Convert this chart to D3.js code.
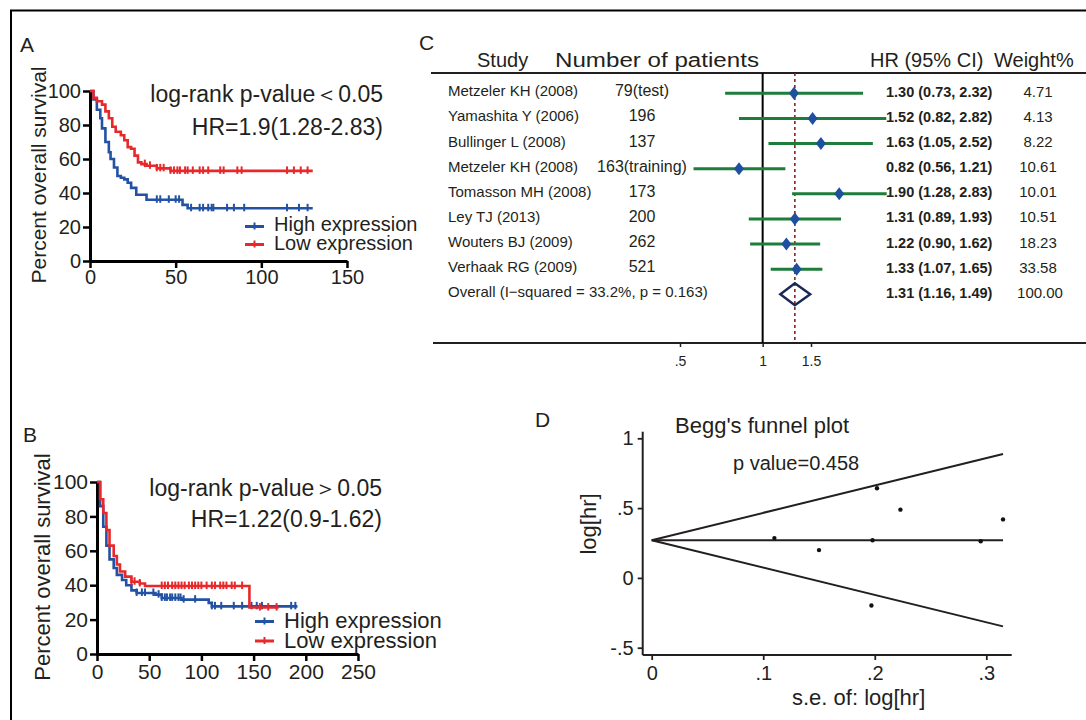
<!DOCTYPE html>
<html>
<head>
<meta charset="utf-8">
<script src="https://cdn.jsdelivr.net/npm/d3@7"></script>
<style>
body { margin: 0; background: #fff; }
svg text { font-family: "Liberation Sans", Arial, sans-serif; fill: #231f20; }
</style>
</head>
<body>
<script>
// ---- panel A: survival steps (months, %) ----
const aHighT = [0, 2, 4, 6, 7, 9, 11, 12, 14, 16, 18, 20, 22, 24, 27, 33, 54, 57, 130];
const aHighS = [100, 95, 89, 84, 78, 70, 64, 60, 55, 50, 49, 48, 46, 43, 39, 36, 33, 31, 31];
const aLowT = [0, 2, 4, 7, 9, 11, 13, 15, 18, 20, 22, 24, 26, 28, 30, 33, 39, 47, 130];
const aLowS = [100, 96, 94, 92, 88, 84, 79, 76, 74, 71, 67, 66, 62, 58, 57, 56, 54.5, 53, 53];
const aHighCens = [39, 41, 46, 50, 52, 59, 64, 66, 69, 71, 72, 80, 84, 90, 115, 122, 127];
const aLowCens = [32, 35, 39, 41, 43, 47, 49, 51, 52.5, 55.5, 57, 60, 64, 66, 69, 76, 78, 86, 88.5, 115, 119, 123, 127];

// ---- panel B ----
const bHighT = [0, 3, 6, 9, 12, 16, 19, 24, 28, 33, 38, 56, 62, 81, 107, 110, 192];
const bHighS = [100, 86, 74, 63, 55, 50, 46, 43, 40, 37, 35.5, 34.5, 32.6, 31.6, 29.7, 27.7, 27.7];
const bLowT = [0, 3, 6, 9, 12, 16, 19, 22, 27, 33, 41, 46, 146, 174];
const bLowS = [100, 90, 82, 72, 63, 57, 52, 48, 45, 42, 41, 39.5, 27, 27];
const bHighCens = [38, 43, 46, 54, 59, 62, 65, 67, 70, 72, 75, 78, 80, 83, 94, 110, 113, 119, 131, 139, 148, 153, 158, 186, 190];
const bLowCens = [33, 36, 41, 62, 65, 68, 72, 75, 78, 81, 84, 88, 91, 94, 97, 100, 105, 110, 113, 118, 121, 124, 129, 132, 139, 156, 164, 172];

const survTicks = [0, 20, 40, 60, 80, 100];
const aTimeTicks = [0, 50, 100, 150];
const bTimeTicks = [0, 50, 100, 150, 200, 250];

// ---- panel C: forest plot ----
const studies = ["Metzeler KH (2008)", "Yamashita Y (2006)", "Bullinger L (2008)", "Metzeler KH (2008)",
  "Tomasson MH (2008)", "Ley TJ (2013)", "Wouters BJ (2009)", "Verhaak RG (2009)"];
const patients = ["79(test)", "196", "137", "163(training)", "173", "200", "262", "521"];
const hr = [1.30, 1.52, 1.63, 0.82, 1.90, 1.31, 1.22, 1.33];
const hrLo = [0.73, 0.82, 1.05, 0.56, 1.28, 0.89, 0.90, 1.07];
const hrHi = [2.32, 2.82, 2.52, 1.21, 2.83, 1.93, 1.62, 1.65];
const weights = ["4.71", "4.13", "8.22", "10.61", "10.01", "10.51", "18.23", "33.58"];
const overall = { hr: 1.31, lo: 1.16, hi: 1.49, weight: "100.00" };
const overallLabel = "Overall  (I\u2212squared = 33.2%, p = 0.163)";
const forestTicks = [0.5, 1, 1.5];

// ---- panel D: Begg's funnel ----
const seVals = [0.295, 0.315, 0.223, 0.197, 0.202, 0.198, 0.150, 0.110];
const logHr = [0.262, 0.419, 0.489, -0.198, 0.642, 0.270, 0.199, 0.285];
const pooled = 0.27, seMax = 0.315;
const funnelYTicks = [-0.5, 0, 0.5, 1];
const funnelXTicks = [0, 0.1, 0.2, 0.3];

const blue = "#2352a4", red = "#e8282b", ink = "#231f20";
const green = "#1e7d3a", navy = "#1f4f9f";

const svg = d3.select("body").append("svg")
  .attr("width", 1086).attr("height", 720);
svg.append("rect").attr("width", 1086).attr("height", 720).attr("fill", "#fff");

// outer frame (top and left only)
svg.append("path").attr("d", "M11,720V10.5H1086")
  .attr("fill", "none").attr("stroke", "#000").attr("stroke-width", 2);

const label = (x, y, t, size) => svg.append("text").attr("x", x).attr("y", y).text(t)
  .style("font-size", size + "px");

label(20, 52, "A", 21);
label(23, 442, "B", 21);
label(419, 50, "C", 21);
label(535, 427, "D", 21);

const stepsOf = (T, S) => T.map((t, i) => ({ t: t, s: S[i] }));
const survAt = (T, S, t) => {
  let s = S[0];
  T.forEach((tt, i) => { if (tt <= t) s = S[i]; });
  return s;
};

function kmPanel(o) {
  const x = d3.scaleLinear().domain([0, o.xmax]).range(o.xr);
  const y = d3.scaleLinear().domain([0, 100]).range(o.yr);
  const g = svg.append("g");

  const ax = g.append("g").attr("transform", `translate(${o.xr[0]},0)`)
    .call(d3.axisLeft(y).tickValues(survTicks).tickSize(7).tickPadding(2).tickSizeOuter(0));
  const bx = g.append("g").attr("transform", `translate(0,${o.yr[0]})`)
    .call(d3.axisBottom(x).tickValues(o.xticks).tickSize(7).tickPadding(o.xpad).tickSizeOuter(0));
  [ax, bx].forEach(a => {
    a.select(".domain").attr("stroke", "#000").attr("stroke-width", 3);
    a.selectAll(".tick line").attr("stroke", "#000").attr("stroke-width", 2.5);
    a.selectAll(".tick text").style("font-size", o.tickFont + "px").attr("fill", ink)
      .style("font-family", '"Liberation Sans", Arial, sans-serif');
  });

  const line = d3.line().x(d => x(d.t)).y(d => y(d.s)).curve(d3.curveStepAfter);
  o.curves.forEach(c => {
    g.append("path").datum(stepsOf(c.T, c.S)).attr("d", line)
      .attr("fill", "none").attr("stroke", c.color).attr("stroke-width", 2.6);
    g.selectAll(null).data(c.cens).enter().append("line")
      .attr("x1", d => x(d)).attr("x2", d => x(d))
      .attr("y1", d => y(survAt(c.T, c.S, d)) - 4.5)
      .attr("y2", d => y(survAt(c.T, c.S, d)) + 3)
      .attr("stroke", c.color).attr("stroke-width", 2);
  });

  // y axis title
  g.append("text").text("Percent overall survival")
    .attr("transform", `translate(${o.titleX},${o.titleY}) rotate(-90)`)
    .attr("text-anchor", "middle").style("font-size", o.titleFont + "px");

  // annotations
  o.notes.forEach(n => {
    g.append("text").attr("x", o.noteX).attr("y", n.y).attr("text-anchor", "end")
      .style("font-size", "23px").text(n.t);
  });

  // legend
  o.curves.forEach((c, i) => {
    const ly = o.legY[i];
    g.append("line").attr("x1", o.legX).attr("x2", o.legX + 19).attr("y1", ly).attr("y2", ly)
      .attr("stroke", c.color).attr("stroke-width", 3);
    g.append("line").attr("x1", o.legX + 9.5).attr("x2", o.legX + 9.5).attr("y1", ly - 4).attr("y2", ly + 3)
      .attr("stroke", c.color).attr("stroke-width", 2);
    g.append("text").attr("x", o.legX + 29).attr("y", o.legTextY[i])
      .style("font-size", o.legFont + "px").text(c.name);
  });
}

kmPanel({
  xmax: 150, xr: [90, 347], yr: [261, 91], xticks: aTimeTicks, xpad: 2, tickFont: 20,
  titleX: 46, titleY: 175, titleFont: 21,
  noteX: 383, notes: [{ t: "log-rank p-value\uFF1C0.05", y: 102 }, { t: "HR=1.9(1.28-2.83)", y: 135 }],
  legX: 245, legY: [226.5, 244.5], legTextY: [231, 250], legFont: 20,
  curves: [
    { name: "High expression", color: blue, T: aHighT, S: aHighS, cens: aHighCens },
    { name: "Low expression", color: red, T: aLowT, S: aLowS, cens: aLowCens }
  ]
});

kmPanel({
  xmax: 250, xr: [97, 358], yr: [654, 482], xticks: bTimeTicks, xpad: 3, tickFont: 21,
  titleX: 50, titleY: 567, titleFont: 22,
  noteX: 382, notes: [{ t: "log-rank p-value\uFF1E0.05", y: 496 }, { t: "HR=1.22(0.9-1.62)", y: 527 }],
  legX: 255, legY: [621.5, 641], legTextY: [628, 648], legFont: 22,
  curves: [
    { name: "High expression", color: blue, T: bHighT, S: bHighS, cens: bHighCens },
    { name: "Low expression", color: red, T: bLowT, S: bLowS, cens: bLowCens }
  ]
});

// ---------- panel C ----------
const xF = d3.scaleLog().domain([0.5, 1.5]).range([680, 811]);
const yF = d3.scaleLinear().domain([0, 8]).range([93.3, 294.3]);
const fc = svg.append("g");

fc.append("text").attr("x", 477).attr("y", 67).style("font-size", "20px").text("Study");
fc.append("text").attr("x", 555).attr("y", 67).style("font-size", "20px")
  .attr("textLength", 204).attr("lengthAdjust", "spacingAndGlyphs").text("Number of patients");
fc.append("text").attr("x", 870).attr("y", 67).style("font-size", "20px").text("HR (95% CI)");
fc.append("text").attr("x", 994).attr("y", 67).style("font-size", "20px").text("Weight%");

fc.append("line").attr("x1", 431).attr("x2", 1086).attr("y1", 73).attr("y2", 73)
  .attr("stroke", ink).attr("stroke-width", 2);
fc.append("line").attr("x1", 433).attr("x2", 1086).attr("y1", 343).attr("y2", 343)
  .attr("stroke", ink).attr("stroke-width", 2);

fc.append("line").attr("x1", xF(1)).attr("x2", xF(1)).attr("y1", 73).attr("y2", 343)
  .attr("stroke", "#000").attr("stroke-width", 2);
fc.append("line").attr("x1", xF(overall.hr)).attr("x2", xF(overall.hr)).attr("y1", 73).attr("y2", 343)
  .attr("stroke", "#8b2323").attr("stroke-width", 1.6).attr("stroke-dasharray", "3,3");

const rows = studies.map((s, i) => ({ s: s, n: patients[i], hr: hr[i], lo: hrLo[i], hi: hrHi[i], w: weights[i], i: i }));

fc.selectAll(".ci").data(rows).enter().append("line")
  .attr("x1", d => xF(d.lo)).attr("x2", d => xF(d.hi))
  .attr("y1", d => yF(d.i)).attr("y2", d => yF(d.i))
  .attr("stroke", green).attr("stroke-width", 3);
fc.selectAll(".pt").data(rows).enter().append("path")
  .attr("d", d => `M${xF(d.hr) - 5},${yF(d.i)}L${xF(d.hr)},${yF(d.i) - 6.5}L${xF(d.hr) + 5},${yF(d.i)}L${xF(d.hr)},${yF(d.i) + 6.5}Z`)
  .attr("fill", navy);

fc.selectAll(".nm").data(rows).enter().append("text")
  .attr("x", 448).attr("y", d => yF(d.i) + 3).style("font-size", "15px").text(d => d.s);
fc.selectAll(".np").data(rows).enter().append("text")
  .attr("x", 642).attr("y", d => yF(d.i) + 3).attr("text-anchor", "middle")
  .style("font-size", "16px").text(d => d.n);
fc.selectAll(".hr").data(rows).enter().append("text")
  .attr("x", 886).attr("y", d => yF(d.i) + 3.5).style("font-size", "14.5px").style("font-weight", "bold")
  .text(d => `${d.hr.toFixed(2)} (${d.lo.toFixed(2)}, ${d.hi.toFixed(2)})`);
fc.selectAll(".wt").data(rows).enter().append("text")
  .attr("x", 1038).attr("y", d => yF(d.i) + 3.5).attr("text-anchor", "middle")
  .style("font-size", "15px").attr("fill", "#333").text(d => d.w);

// overall row
const yo = yF(8);
fc.append("path")
  .attr("d", `M${xF(overall.lo)},${yo}L${xF(overall.hr)},${yo - 11}L${xF(overall.hi)},${yo}L${xF(overall.hr)},${yo + 11}Z`)
  .attr("fill", "none").attr("stroke", "#1b2a55").attr("stroke-width", 2.5);
fc.append("text").attr("x", 448).attr("y", yo + 3).style("font-size", "15px").text(overallLabel);
fc.append("text").attr("x", 886).attr("y", yo + 3.5).style("font-size", "14.5px").style("font-weight", "bold")
  .text(`${overall.hr.toFixed(2)} (${overall.lo.toFixed(2)}, ${overall.hi.toFixed(2)})`);
fc.append("text").attr("x", 1040).attr("y", yo + 3.5).attr("text-anchor", "middle")
  .style("font-size", "15px").attr("fill", "#333").text(overall.weight);

const fax = fc.append("g").attr("transform", "translate(0,343)")
  .call(d3.axisBottom(xF).tickValues(forestTicks).tickSize(4).tickPadding(9)
    .tickFormat(d => d === 1 ? "1" : String(d).replace(/^0/, "")));
fax.select(".domain").remove();
fax.selectAll(".tick line").attr("stroke", ink).attr("stroke-width", 1.5);
fax.selectAll(".tick text").style("font-size", "14px").attr("fill", ink)
  .style("font-family", '"Liberation Sans", Arial, sans-serif');

// ---------- panel D ----------
const xD = d3.scaleLinear().domain([0, 0.3]).range([651.7, 986.3]);
const yD = d3.scaleLinear().domain([-0.5, 1]).range([647.7, 438.3]);
const fd = svg.append("g");

fd.append("line").attr("x1", 642.7).attr("x2", 642.7).attr("y1", 431.7).attr("y2", 655)
  .attr("stroke", ink).attr("stroke-width", 2);
fd.append("line").attr("x1", 642.7).attr("x2", 1011.7).attr("y1", 655).attr("y2", 655)
  .attr("stroke", ink).attr("stroke-width", 2);

const dyA = fd.append("g").attr("transform", "translate(642.7,0)")
  .call(d3.axisLeft(yD).tickValues(funnelYTicks).tickSize(5).tickPadding(4)
    .tickFormat(d => d === 0 ? "0" : d === 1 ? "1" : String(d).replace("0.", ".")));
const dxA = fd.append("g").attr("transform", "translate(0,655)")
  .call(d3.axisBottom(xD).tickValues(funnelXTicks).tickSize(5).tickPadding(6)
    .tickFormat(d => d === 0 ? "0" : String(d).replace("0.", ".")));
[dyA, dxA].forEach(a => {
  a.select(".domain").remove();
  a.selectAll(".tick line").attr("stroke", ink).attr("stroke-width", 1.8);
  a.selectAll(".tick text").style("font-size", "20px").attr("fill", ink)
    .style("font-family", '"Liberation Sans", Arial, sans-serif');
});

const z = 1.96;
[pooled + z * seMax, pooled, pooled - z * seMax].forEach(e => {
  fd.append("line").attr("x1", xD(0)).attr("y1", yD(pooled))
    .attr("x2", xD(seMax)).attr("y2", yD(e))
    .attr("stroke", ink).attr("stroke-width", 2);
});

fd.selectAll(".dot").data(seVals.map((s, i) => ({ se: s, b: logHr[i] }))).enter().append("circle")
  .attr("cx", d => xD(d.se)).attr("cy", d => yD(d.b)).attr("r", 2.2).attr("fill", "#111");

fd.append("text").attr("x", 675).attr("y", 433).style("font-size", "22px").text("Begg's funnel plot");
fd.append("text").attr("x", 733).attr("y", 470).style("font-size", "20px").text("p value=0.458");
fd.append("text").attr("transform", "translate(596,524) rotate(-90)").attr("text-anchor", "middle")
  .style("font-size", "22px").text("log[hr]");
fd.append("text").attr("x", 792).attr("y", 705).style("font-size", "22px").text("s.e. of: log[hr]");
</script>
</body>
</html>
